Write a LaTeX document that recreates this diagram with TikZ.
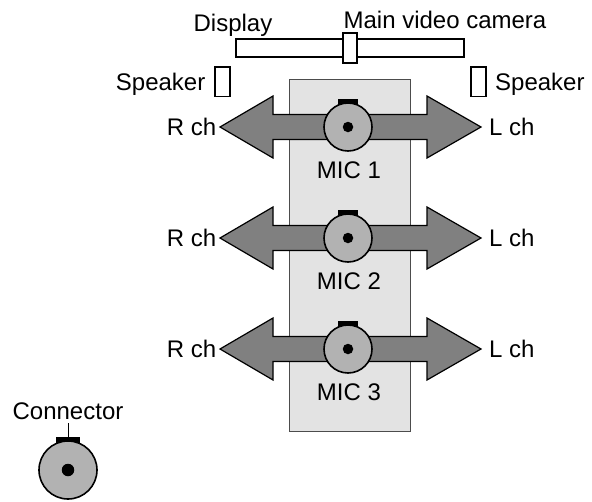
\documentclass[tikz,border=0pt]{standalone}
\usepackage{fontspec}
\setmainfont{Liberation Sans}
\usetikzlibrary{positioning}
\definecolor{panelgray}{gray}{0.89}
\definecolor{arrowgray}{gray}{0.5}
\definecolor{micgray}{gray}{0.7}
\tikzset{
  box/.style={draw=black,line width=1.6pt,fill=white,inner sep=0pt,minimum width=#1},
  lbl/.style={inner sep=0pt,font=\fontsize{24}{26}\selectfont,text height=17pt,text depth=0pt},
  micbody/.style={circle,draw=black,line width=1.6pt,fill=micgray,inner sep=0pt,minimum size=#1},
  micdot/.style={circle,fill=black,inner sep=0pt,minimum size=#1},
  mictab/.style={fill=black,inner sep=0pt},
  bigarrow/.style={draw=black,line width=1.2pt,fill=arrowgray,line join=miter}
}
\newcommand{\microw}[3]{%
  \draw[bigarrow] (220,#1) -- (273,#1-31) -- (273,#1-12.5) -- (427,#1-12.5) -- (427,#1-31) -- (481,#1)
     -- (427,#1+31) -- (427,#1+12.5) -- (273,#1+12.5) -- (273,#1+31) -- cycle;
  \node[mictab,minimum width=20pt,minimum height=8pt] (tab#2) at (348,#1-24) {};
  \node[micbody=48pt] (mic#2) at (348,#1) {};
  \node[micdot=10.5pt] (dot#2) at (348,#1) {};
  \node[lbl,anchor=east] (r#2) at (216.5,#1) {R ch};
  \node[lbl,anchor=west] (l#2) at (489,#1) {L ch};
  \node[lbl] (name#2) at (349,#1+43) {MIC #3};
}
\begin{document}
\begin{tikzpicture}[x=1pt,y=-1pt]
\useasboundingbox (0,0) rectangle (592,501);
\node[draw=black!70,line width=0.8pt,fill=panelgray,inner sep=0pt,minimum width=120.5pt,minimum height=351.5pt] (panel) at (349.75,255.25) {};
\node[box=228.5pt,minimum height=18pt] (display) at (350,48) {};
\node[box=14.5pt,minimum height=30pt] (camera) at (350,48) {};
\node[box=15pt,minimum height=29.5pt] (spkL) at (222.5,81.75) {};
\node[box=15pt,minimum height=29.5pt] (spkR) at (478.5,81.75) {};
\node[lbl] (displaylabel) at (233,23) {Display};
\node[lbl] (cameralabel) at (445,20) {Main video camera};
\node[lbl,anchor=east] (spkLlabel) at (205.5,82) {Speaker};
\node[lbl,anchor=west] (spkRlabel) at (495,82) {Speaker};
\microw{127}{1}{1}
\microw{238}{2}{2}
\microw{349}{3}{3}
\node[lbl] (connlabel) at (68,411) {Connector};
\node[mictab,minimum width=24pt,minimum height=9pt] (legtab) at (68,441.5) {};
\node[micbody=58pt] (legmic) at (68,470) {};
\node[micdot=12.5pt] (legdot) at (68,470) {};
\coordinate (legtop) at (68,423);
\draw[line width=0.8pt] (legtop) -- (legtab.north);
\end{tikzpicture}
\end{document}
